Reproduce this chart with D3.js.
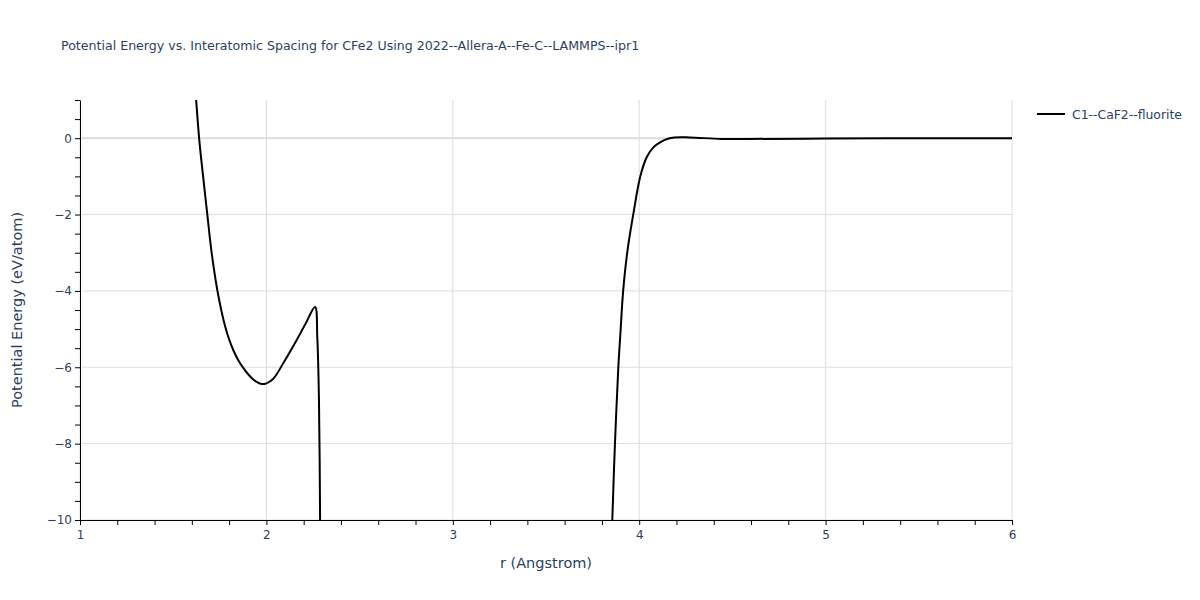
<!DOCTYPE html>
<html>
<head>
<meta charset="utf-8">
<script src="https://cdn.jsdelivr.net/npm/d3@7"></script>
<style>
  body { margin: 0; background: #fff; }
  text { font-family: "DejaVu Sans", verdana, sans-serif; fill: #2a3f5f; }
</style>
</head>
<body>
<div id="chart"></div>
<script>
// data
const seriesName = "C1--CaF2--fluorite";
const leftR = [1.60, 1.62, 1.64, 1.66, 1.683, 1.706, 1.737, 1.76, 1.78, 1.80, 1.825, 1.85, 1.875, 1.90, 1.925, 1.95, 1.975, 2.0, 2.037, 2.099, 2.162, 2.21, 2.261, 2.273, 2.282, 2.288, 2.29];
const leftE = [2.5, 1.2, -0.05, -0.98, -2.0, -2.99, -3.99, -4.55, -4.95, -5.27, -5.58, -5.82, -6.01, -6.17, -6.30, -6.39, -6.44, -6.42, -6.30, -5.82, -5.29, -4.86, -4.42, -5.21, -6.86, -10.0, -12.0];
const rightR = [3.852, 3.856, 3.870, 3.888, 3.90, 3.914, 3.937, 3.968, 4.006, 4.04, 4.076, 4.112, 4.15, 4.19, 4.27, 4.44, 4.59, 5.0, 5.5, 6.0];
const rightE = [-11.0, -9.96, -8.0, -6.0, -5.05, -4.0, -2.95, -2.0, -1.0, -0.50, -0.24, -0.11, -0.02, 0.02, 0.02, -0.02, -0.02, -0.01, 0.0, 0.0];
const xTicks = [1, 2, 3, 4, 5, 6];
const yTicks = [-10, -8, -6, -4, -2, 0];

const width = 1200, height = 600;
const margin = {top: 100, right: 188, bottom: 80, left: 80};

const svg = d3.select("#chart").append("svg")
  .attr("width", width).attr("height", height);

const x = d3.scaleLinear().domain([1, 6]).range([margin.left, width - margin.right]);
const y = d3.scaleLinear().domain([-10, 1]).range([height - margin.bottom, margin.top]);

// grid
const grid = svg.append("g");
grid.selectAll("line.gx").data(xTicks).enter().append("line")
  .attr("x1", d => x(d)).attr("x2", d => x(d))
  .attr("y1", y(1)).attr("y2", y(-10))
  .attr("stroke", "#dddddd").attr("stroke-width", 1);
grid.selectAll("line.gy").data(yTicks).enter().append("line")
  .attr("x1", x(1)).attr("x2", x(6))
  .attr("y1", d => y(d)).attr("y2", d => y(d))
  .attr("stroke", "#dddddd")
  .attr("stroke-width", d => d === 0 ? 2 : 1);

// clip
svg.append("defs").append("clipPath").attr("id", "clip")
  .append("rect")
  .attr("x", x(1)).attr("y", y(1))
  .attr("width", x(6) - x(1)).attr("height", y(-10) - y(1));

const line = d3.line()
  .x(d => x(d[0]))
  .y(d => y(d[1]))
  .curve(d3.curveCatmullRom.alpha(0.5));

const branches = [d3.zip(leftR, leftE), d3.zip(rightR, rightE)];
svg.append("g").attr("clip-path", "url(#clip)")
  .selectAll("path").data(branches).enter().append("path")
  .attr("d", line)
  .attr("fill", "none")
  .attr("stroke", "#000")
  .attr("stroke-width", 2)
  .attr("stroke-linejoin", "round");

// axes
const xAxis = svg.append("g")
  .attr("transform", `translate(0,${y(-10)})`)
  .call(d3.axisBottom(x).tickValues(d3.range(1, 6.001, 0.2)).tickSize(5).tickSizeOuter(0)
    .tickFormat(d => Math.abs(d - Math.round(d)) < 1e-6 ? d3.format("d")(Math.round(d)) : ""));
xAxis.select(".domain").attr("stroke", "#000");
xAxis.selectAll(".tick line").attr("stroke", "#000");
xAxis.selectAll(".tick text").attr("font-size", 12).attr("font-family", "DejaVu Sans")
  .attr("dy", "0.95em").style("fill", "#2a3f5f");

const yAxis = svg.append("g")
  .attr("transform", `translate(${x(1)},0)`)
  .call(d3.axisLeft(y).tickValues(d3.range(-10, 1.001, 0.5)).tickSize(5).tickSizeOuter(0)
    .tickFormat(d => yTicks.includes(d) ? d3.format("d")(d) : ""));
yAxis.select(".domain").attr("stroke", "#000");
yAxis.selectAll(".tick line").attr("stroke", "#000");
yAxis.selectAll(".tick text").attr("font-size", 12).attr("font-family", "DejaVu Sans")
  .attr("x", -8).style("fill", "#2a3f5f");

// titles
svg.append("text")
  .attr("x", 61).attr("y", 50)
  .attr("font-size", 12.6)
  .text("Potential Energy vs. Interatomic Spacing for CFe2 Using 2022--Allera-A--Fe-C--LAMMPS--ipr1");

svg.append("text")
  .attr("x", (x(1) + x(6)) / 2).attr("y", 568)
  .attr("text-anchor", "middle").attr("font-size", 14.5)
  .text("r (Angstrom)");

svg.append("text")
  .attr("transform", `translate(22,${(y(1) + y(-10)) / 2}) rotate(-90)`)
  .attr("text-anchor", "middle").attr("font-size", 14.5)
  .text("Potential Energy (eV/atom)");

// legend
const legend = svg.append("g").attr("transform", "translate(1037,114)");
legend.append("line").attr("x1", 0).attr("x2", 28).attr("y1", 0).attr("y2", 0)
  .attr("stroke", "#000").attr("stroke-width", 2);
legend.append("text").attr("x", 35).attr("y", 4.5).attr("font-size", 12.4).text(seriesName);
</script>
</body>
</html>
